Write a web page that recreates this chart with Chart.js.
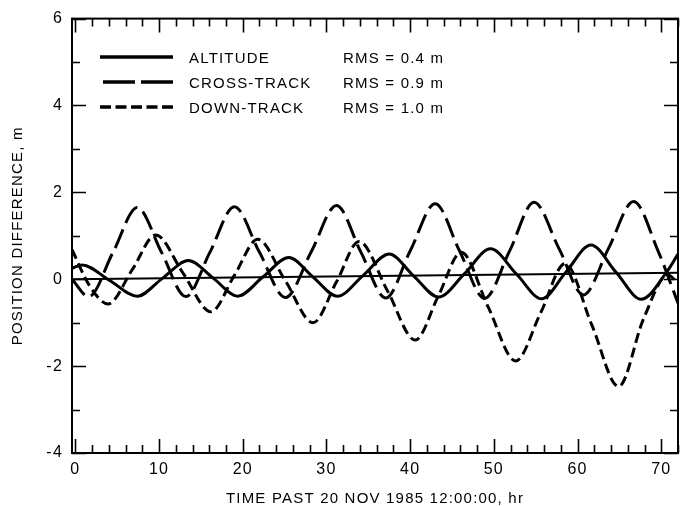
<!DOCTYPE html>
<html><head><meta charset="utf-8">
<script src="https://cdn.jsdelivr.net/npm/chart.js@4.4.1/dist/chart.umd.min.js"></script>
<style>html,body{margin:0;padding:0;background:#fff;} #wrap{width:680px;height:506px;}</style>
</head><body><div id="wrap"><canvas id="c" width="680" height="506"></canvas></div>
<script>
// ---- data (hours past 20 Nov 1985 12:00:00, metres) ----
const seriesNames = ['ALTITUDE', 'CROSS-TRACK', 'DOWN-TRACK'];
const rmsLabels = ['RMS = 0.4 m', 'RMS = 0.9 m', 'RMS = 1.0 m'];

const altitudeHours  = [-0.4, 0.8, 4.1, 7.4, 10.4, 13.5, 16.5, 19.4, 22.4, 25.5, 28.4, 31.3, 34.4, 37.5, 40.4, 43.4, 46.5, 49.6, 52.7, 55.7, 58.6, 61.6, 64.6, 67.6, 70.7, 72];
const altitudeValues = [0.25, 0.33, -0.03, -0.39, 0.02, 0.43, 0.02, -0.39, 0.05, 0.50, 0.05, -0.39, 0.09, 0.58, 0.08, -0.41, 0.13, 0.70, 0.12, -0.45, 0.16, 0.79, 0.16, -0.46, 0.18, 0.58];

const crossHours  = [-0.4, 1.6, 4.5, 7.4, 10.3, 13.2, 16.1, 19.0, 22.0, 25.1, 28.2, 31.2, 34.1, 37.1, 40.0, 43.0, 45.9, 48.9, 51.9, 54.8, 57.8, 60.7, 63.7, 66.7, 69.6, 72];
const crossValues = [0.0, -0.40, 0.62, 1.65, 0.62, -0.40, 0.63, 1.67, 0.62, -0.42, 0.64, 1.70, 0.63, -0.43, 0.65, 1.74, 0.65, -0.44, 0.66, 1.77, 0.70, -0.36, 0.71, 1.79, 0.66, -0.55];

const downHours  = [-0.4, 1.7, 3.9, 6.8, 9.6, 12.9, 16.2, 19.0, 21.8, 25.1, 28.4, 31.2, 33.9, 37.3, 40.6, 43.4, 46.1, 49.3, 52.6, 55.6, 58.5, 61.7, 64.9, 67.9, 70.8, 72];
const downValues = [0.68, -0.15, -0.57, 0.22, 1.02, 0.13, -0.75, 0.09, 0.92, -0.04, -1.0, -0.06, 0.87, -0.27, -1.40, -0.37, 0.62, -0.63, -1.88, -0.77, 0.36, -1.05, -2.47, -0.90, 0.10, -0.10];

const refLineHours  = [-0.4, 72];
const refLineValues = [0.0, 0.15];

const xTickLabels = [0, 10, 20, 30, 40, 50, 60, 70];
const xMinorTicks = [2, 4, 6, 8, 12, 14, 16, 18, 22, 24, 26, 28, 32, 34, 36, 38, 42, 44, 46, 48, 52, 54, 56, 58, 62, 64, 66, 68, 72];
const yTickLabels = [-4, -2, 0, 2, 4, 6];
const yMinorTicks = [-3, -1, 1, 3, 5];

// ---- rendering ----
const FONT = '"Liberation Sans", Arial, Helvetica, sans-serif';
const SPACING = '1.2px';
function pts(xs, ys) { return xs.map((x, i) => ({ x: x, y: ys[i] })); }
const lineBase = { borderColor: '#000', pointRadius: 0, fill: false, cubicInterpolationMode: 'monotone' };

const decor = {
  id: 'decor',
  beforeInit(chart) { chart.ctx.letterSpacing = SPACING; },
  beforeLayout(chart) { chart.ctx.letterSpacing = SPACING; },
  beforeDraw(chart) {
    const ctx = chart.ctx;
    ctx.save(); ctx.fillStyle = '#fff'; ctx.fillRect(0, 0, chart.width, chart.height); ctx.restore();
    ctx.letterSpacing = SPACING;
  },
  afterDraw(chart) {
    const ctx = chart.ctx, a = chart.chartArea, xs = chart.scales.x, ys = chart.scales.y;
    ctx.save();
    ctx.strokeStyle = '#000'; ctx.lineWidth = 2; ctx.setLineDash([]);
    ctx.strokeRect(a.left, a.top, a.right - a.left, a.bottom - a.top);
    ctx.lineWidth = 1.6;
    const tickX = (v, len) => {
      const p = Math.round(xs.getPixelForValue(v)) + 0.5;
      ctx.beginPath();
      ctx.moveTo(p, a.bottom); ctx.lineTo(p, a.bottom - len);
      ctx.moveTo(p, a.top); ctx.lineTo(p, a.top + len);
      ctx.stroke();
    };
    const tickY = (v, len) => {
      const p = Math.round(ys.getPixelForValue(v)) + 0.5;
      ctx.beginPath();
      ctx.moveTo(a.left, p); ctx.lineTo(a.left + len, p);
      ctx.moveTo(a.right, p); ctx.lineTo(a.right - len, p);
      ctx.stroke();
    };
    xTickLabels.forEach(v => tickX(v, 14));
    xMinorTicks.forEach(v => tickX(v, 8));
    yTickLabels.forEach(v => tickY(v, 14));
    yMinorTicks.forEach(v => tickY(v, 8));

    // legend
    const legendDash = [[], [32, 6], [11, 4.5]];
    const rows = [57, 82, 107];
    ctx.font = '15px ' + FONT; ctx.fillStyle = '#000';
    ctx.textBaseline = 'alphabetic'; ctx.textAlign = 'left';
    ctx.letterSpacing = SPACING;
    for (let i = 0; i < 3; i++) {
      const ds = chart.data.datasets[i];
      ctx.lineWidth = 3.5; ctx.setLineDash(legendDash[i]);
      ctx.beginPath(); ctx.moveTo(i === 1 ? 103 : 100, rows[i]); ctx.lineTo(173, rows[i]); ctx.stroke();
      ctx.setLineDash([]);
      ctx.fillText(ds.label, 189, rows[i] + 5.5);
      ctx.fillText(rmsLabels[i], 343, rows[i] + 5.5);
    }
    ctx.restore();
  }
};

new Chart(document.getElementById('c'), {
  type: 'line',
  data: {
    datasets: [
      Object.assign({ label: seriesNames[0], data: pts(altitudeHours, altitudeValues), borderWidth: 3, borderDash: [] }, lineBase),
      Object.assign({ label: seriesNames[1], data: pts(crossHours, crossValues), borderWidth: 3, borderDash: [20, 7] }, lineBase),
      Object.assign({ label: seriesNames[2], data: pts(downHours, downValues), borderWidth: 3, borderDash: [10, 5] }, lineBase),
      Object.assign({ label: 'reference', data: pts(refLineHours, refLineValues), borderWidth: 2, borderDash: [] }, lineBase)
    ]
  },
  options: {
    responsive: false,
    animation: false,
    devicePixelRatio: 1,
    layout: { padding: { top: 17, right: 2, left: 0, bottom: 0 } },
    plugins: { legend: { display: false }, tooltip: { enabled: false } },
    scales: {
      x: {
        type: 'linear', min: -0.4, max: 72,
        afterBuildTicks: s => { s.ticks = xTickLabels.map(v => ({ value: v })); },
        afterFit: s => { s.height = 53; },
        grid: { display: false, drawTicks: false },
        border: { display: false },
        ticks: { color: '#000', font: { family: FONT, size: 16 }, padding: 7, maxRotation: 0, autoSkip: false, callback: v => String(v) },
        title: { display: true, text: 'TIME PAST 20 NOV 1985 12:00:00, hr', color: '#000', font: { family: FONT, size: 15, lineHeight: 1 }, padding: { top: 0, bottom: 0 } }
      },
      y: {
        type: 'linear', min: -4, max: 6,
        afterBuildTicks: s => { s.ticks = yTickLabels.map(v => ({ value: v })); },
        afterFit: s => { s.width = 72; },
        grid: { display: false, drawTicks: false },
        border: { display: false },
        ticks: { color: '#000', font: { family: FONT, size: 16 }, padding: 9, autoSkip: false, callback: v => String(v) },
        title: { display: true, text: 'POSITION DIFFERENCE, m', color: '#000', font: { family: FONT, size: 15, lineHeight: 1 }, padding: { top: 10, bottom: 0 } }
      }
    }
  },
  plugins: [decor]
});
</script>
</body></html>
